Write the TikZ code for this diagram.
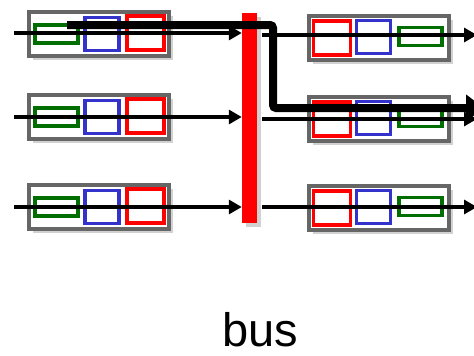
\documentclass[tikz,border=0pt]{standalone}
\usepackage{fontspec}
\setmainfont{Liberation Sans}
\usetikzlibrary{arrows.meta,shadows}
\definecolor{fgreen}{RGB}{0,110,0}
\definecolor{fblue}{RGB}{51,51,204}
\definecolor{fred}{RGB}{255,0,0}
\definecolor{fgray}{RGB}{102,102,102}
\begin{document}
\begin{tikzpicture}[x=1pt,y=-1pt,
  frame/.style={draw=fgray,line width=4pt,fill=white,minimum width=140pt,minimum height=44pt,inner sep=0pt,
    drop shadow={shadow xshift=4pt,shadow yshift=-4pt,fill=black!45,opacity=0.4}},
  slot/.style={draw,line width=3.5pt,inner sep=0pt},
  gslot/.style={slot,draw=fgreen,minimum width=43pt,minimum height=18pt},
  bslot/.style={slot,draw=fblue,minimum width=34pt,minimum height=33pt},
  rslot/.style={slot,draw=fred,minimum width=37pt,minimum height=34pt},
  arr/.style={line width=3.2pt,-{Triangle[length=13pt,width=14pt]}},
  bigarr/.style={line width=8pt,rounded corners=3pt,-{Triangle[length=18pt,width=26pt]}}
]
\useasboundingbox (0,0) rectangle (474,356);

% input ports
\foreach \i/\y in {1/34,2/117,3/207}{
  \node[frame] (L\i) at (99,\y) {};
  \node[gslot] (Lg\i) at (56.5,\y) {};
  \node[bslot] (Lb\i) at (102,\y) {};
  \node[rslot] (Lr\i) at (145.5,\y-1) {};
}
% output ports
\foreach \i/\y in {1/38,2/119,3/208}{
  \node[frame] (R\i) at (378.5,\y) {};
  \node[rslot] (Rr\i) at (332,\y) {};
  \node[bslot] (Rb\i) at (373.5,\y-1) {};
  \node[gslot] (Rg\i) at (420.5,\y-1.5) {};
}

% bus
\node[fill=fred,minimum width=15pt,minimum height=210pt,inner sep=0pt,
  drop shadow={shadow xshift=4pt,shadow yshift=-4pt,fill=black!45,opacity=0.4}] (bus) at (249.5,118) {};

% input arrows
\coordinate (i1) at (14,33);
\coordinate (i2) at (14,117);
\coordinate (i3) at (14,207);
\foreach \i in {1,2,3}{
  \draw[arr] (i\i) -- (bus.west |- i\i);
}
% output arrows
\coordinate (o1) at (477,35);
\coordinate (o2) at (477,119);
\coordinate (o3) at (477,207);
\foreach \i in {1,2,3}{
  \draw[arr] ([xshift=5pt]bus.east |- o\i) -- (o\i);
}

% path through the fabric
\coordinate (t0) at (67,25);
\coordinate (t1) at (273,25);
\coordinate (t2) at (273,108);
\coordinate (t3) at (484,108);
\draw[bigarr] (t0) -- (t1) -- (t2) -- (t3);

\node[anchor=base,font=\fontsize{47}{50}\selectfont,inner sep=0pt] (label) at (260,346) {bus};
\end{tikzpicture}
\end{document}
